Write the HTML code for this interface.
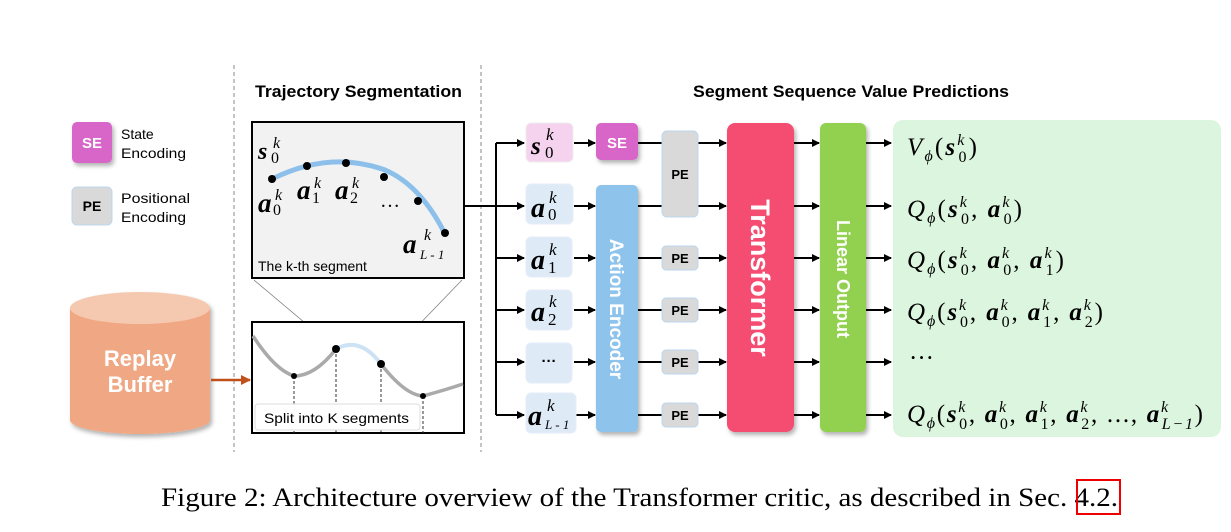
<!DOCTYPE html>
<html><head><meta charset="utf-8"><style>
html,body{margin:0;padding:0;background:#fff}
svg{display:block}
.sans{font-family:"Liberation Sans",sans-serif}
.serif{font-family:"Liberation Serif",serif}
</style></head><body>
<svg width="1231" height="532" viewBox="0 0 1231 532" xmlns="http://www.w3.org/2000/svg">
<defs>
<marker id="ar" markerWidth="8" markerHeight="8" refX="7" refY="4" orient="auto" markerUnits="userSpaceOnUse">
<path d="M0,0 L8,4 L0,8 z" fill="#000"/></marker>
<marker id="aro" markerWidth="10" markerHeight="10" refX="9" refY="5" orient="auto" markerUnits="userSpaceOnUse">
<path d="M0,0 L10,5 L0,10 z" fill="#c0501a"/></marker>
<filter id="sh" x="-20%" y="-20%" width="150%" height="150%"><feDropShadow dx="2" dy="3" stdDeviation="2" flood-opacity="0.3"/></filter>
</defs>

<line x1="234" y1="65" x2="234" y2="452" stroke="#888" stroke-dasharray="4,3" stroke-width="1"/>
<line x1="481" y1="65" x2="481" y2="452" stroke="#888" stroke-dasharray="4,3" stroke-width="1"/>

<text x="255" y="97" class="sans" font-weight="bold" font-size="17" textLength="207" lengthAdjust="spacingAndGlyphs">Trajectory Segmentation</text>
<text x="693" y="97" class="sans" font-weight="bold" font-size="17" textLength="316" lengthAdjust="spacingAndGlyphs">Segment Sequence Value Predictions</text>

<rect x="72" y="122" width="40" height="41" rx="5" fill="#d766c8" filter="url(#sh)"/>
<text x="92" y="148" text-anchor="middle" class="sans" font-weight="bold" font-size="15" fill="#fff">SE</text>
<text x="121" y="139" class="sans" font-size="14">State</text>
<text x="121" y="158" class="sans" font-size="14" textLength="65" lengthAdjust="spacingAndGlyphs">Encoding</text>
<rect x="72" y="187" width="40" height="38" rx="5" fill="#d9d9d9" stroke="#bcd6ee" stroke-width="1"/>
<text x="92" y="211" text-anchor="middle" class="sans" font-weight="bold" font-size="14">PE</text>
<text x="121" y="203" class="sans" font-size="14" textLength="69" lengthAdjust="spacingAndGlyphs">Positional</text>
<text x="121" y="222" class="sans" font-size="14" textLength="65" lengthAdjust="spacingAndGlyphs">Encoding</text>

<g filter="url(#sh)">
<path d="M70,308 L70,420 A70,14 0 0 0 210,420 L210,308 Z" fill="#f0a884"/>
<ellipse cx="140" cy="308" rx="70" ry="16" fill="#f4c9b0"/>
</g>
<text x="140" y="366" text-anchor="middle" class="sans" font-weight="bold" font-size="22" fill="#fff">Replay</text>
<text x="140" y="392" text-anchor="middle" class="sans" font-weight="bold" font-size="22" fill="#fff">Buffer</text>
<line x1="211" y1="380" x2="250" y2="380" stroke="#c0501a" stroke-width="2.5" marker-end="url(#aro)"/>

<rect x="252" y="122" width="212" height="156" fill="#f2f2f2" stroke="#000" stroke-width="2"/>
<path d="M272,179 Q330,150 385,170 Q420,185 444,232" fill="none" stroke="#8cc0ea" stroke-width="5"/>
<g fill="#000"><circle cx="272" cy="179" r="4"/><circle cx="307" cy="166" r="4"/><circle cx="346" cy="163" r="4"/><circle cx="384" cy="177" r="4"/><circle cx="418" cy="201" r="4"/><circle cx="445" cy="233" r="4"/></g>
<g class="serif" font-style="italic" font-weight="bold">
<text x="258" y="159" font-size="24">s</text>
<text x="258" y="212" font-size="27">a</text>
<text x="297" y="199" font-size="27">a</text>
<text x="335" y="199" font-size="27">a</text>
<text x="403" y="253" font-size="27">a</text>
</g>
<g class="serif" font-size="16">
<text x="273" y="148" font-style="italic">k</text><text x="271" y="163">0</text>
<text x="275" y="200" font-style="italic">k</text><text x="273" y="215">0</text>
<text x="314" y="188" font-style="italic">k</text><text x="312" y="203">1</text>
<text x="352" y="188" font-style="italic">k</text><text x="350" y="203">2</text>
<text x="424" y="240" font-style="italic">k</text><text x="420" y="259" font-style="italic" font-size="13">L - 1</text>
</g>
<text x="380" y="207" class="serif" font-size="20">…</text>
<text x="258" y="271" class="sans" font-size="14">The k-th segment</text>

<line x1="254" y1="280" x2="336" y2="349" stroke="#777" stroke-width="0.7"/>
<line x1="462" y1="280" x2="381" y2="364" stroke="#777" stroke-width="0.7"/>

<rect x="252" y="322" width="212" height="111" fill="#fff" stroke="#000" stroke-width="2"/>
<path d="M253,336 Q275,370 294,376 Q315,376 336,349 Q360,336 381,364 Q405,395 423,396 Q445,390 463,384" fill="none" stroke="#aaa" stroke-width="3.5"/>
<path d="M336,349 Q360,336 381,364" fill="none" stroke="#cde2f5" stroke-width="4"/>
<g stroke="#333" stroke-dasharray="3,2" stroke-width="1"><line x1="294" y1="376" x2="294" y2="433"/><line x1="336" y1="349" x2="336" y2="433"/><line x1="381" y1="364" x2="381" y2="433"/><line x1="423" y1="396" x2="423" y2="433"/></g>
<g fill="#000"><circle cx="294" cy="376" r="3"/><circle cx="336" cy="349" r="4"/><circle cx="381" cy="364" r="4"/><circle cx="423" cy="396" r="3"/></g>
<rect x="255" y="404" width="165" height="26" rx="3" fill="#fff" stroke="#ddd" stroke-width="1"/>
<text x="264" y="423" class="sans" font-size="14" textLength="145" lengthAdjust="spacingAndGlyphs">Split into K segments</text>

<g stroke="#000" stroke-width="2" fill="none">
<line x1="464" y1="206" x2="496" y2="206"/>
<line x1="496" y1="143" x2="496" y2="415"/>
</g>
<g stroke="#000" stroke-width="2" marker-end="url(#ar)">
<line x1="496" y1="143" x2="524" y2="143"/>
<line x1="496" y1="206" x2="524" y2="206"/>
<line x1="496" y1="258" x2="524" y2="258"/>
<line x1="496" y1="310" x2="524" y2="310"/>
<line x1="496" y1="362" x2="524" y2="362"/>
<line x1="496" y1="415" x2="524" y2="415"/>
<line x1="574" y1="143" x2="595" y2="143"/>
<line x1="574" y1="206" x2="595" y2="206"/>
<line x1="574" y1="258" x2="595" y2="258"/>
<line x1="574" y1="310" x2="595" y2="310"/>
<line x1="574" y1="362" x2="595" y2="362"/>
<line x1="576" y1="415" x2="595" y2="415"/>
<line x1="698" y1="143" x2="726" y2="143"/>
<line x1="698" y1="206" x2="726" y2="206"/>
<line x1="698" y1="258" x2="726" y2="258"/>
<line x1="698" y1="310" x2="726" y2="310"/>
<line x1="698" y1="362" x2="726" y2="362"/>
<line x1="698" y1="415" x2="726" y2="415"/>
<line x1="794" y1="143" x2="819" y2="143"/>
<line x1="794" y1="206" x2="819" y2="206"/>
<line x1="794" y1="258" x2="819" y2="258"/>
<line x1="794" y1="310" x2="819" y2="310"/>
<line x1="794" y1="362" x2="819" y2="362"/>
<line x1="794" y1="415" x2="819" y2="415"/>
<line x1="866" y1="143" x2="891" y2="143"/>
<line x1="866" y1="206" x2="891" y2="206"/>
<line x1="866" y1="258" x2="891" y2="258"/>
<line x1="866" y1="310" x2="891" y2="310"/>
<line x1="866" y1="362" x2="891" y2="362"/>
<line x1="866" y1="415" x2="891" y2="415"/>
</g>
<g stroke="#000" stroke-width="2">
<line x1="638" y1="143" x2="662" y2="143"/>
<line x1="638" y1="206" x2="662" y2="206"/>
<line x1="638" y1="258" x2="662" y2="258"/>
<line x1="638" y1="310" x2="662" y2="310"/>
<line x1="638" y1="362" x2="662" y2="362"/>
<line x1="638" y1="415" x2="662" y2="415"/>
</g>

<rect x="526" y="123" width="47" height="39" rx="5" fill="#f5d3ee" stroke="#eee"/>
<g fill="#deebf7" stroke="#e6eef8">
<rect x="526" y="184" width="47" height="40" rx="5"/>
<rect x="526" y="237" width="46" height="40" rx="5"/>
<rect x="526" y="290" width="46" height="40" rx="5"/>
<rect x="526" y="343" width="46" height="40" rx="5"/>
<rect x="526" y="393" width="50" height="40" rx="5"/>
</g>
<g class="serif" font-style="italic" font-weight="bold">
<text x="531" y="154" font-size="25">s</text>
<text x="531" y="217" font-size="28">a</text>
<text x="531" y="269" font-size="28">a</text>
<text x="531" y="321" font-size="28">a</text>
<text x="528" y="425" font-size="28">a</text>
</g>
<g class="serif" font-size="17">
<text x="546" y="140" font-style="italic">k</text><text x="545" y="158">0</text>
<text x="549" y="203" font-style="italic">k</text><text x="548" y="220">0</text>
<text x="549" y="255" font-style="italic">k</text><text x="548" y="273">1</text>
<text x="549" y="307" font-style="italic">k</text><text x="548" y="325">2</text>
<text x="547" y="411" font-style="italic">k</text><text x="545" y="429" font-style="italic" font-size="13">L - 1</text>
</g>
<text x="549" y="366" text-anchor="middle" class="sans" font-weight="bold" font-size="15">···</text>

<rect x="596" y="123" width="42" height="37" rx="5" fill="#d766c8" filter="url(#sh)"/>
<text x="617" y="148" text-anchor="middle" class="sans" font-weight="bold" font-size="15" fill="#fff">SE</text>
<rect x="596" y="185" width="42" height="247" rx="5" fill="#8ec3ec" filter="url(#sh)"/>
<text transform="translate(610,309) rotate(90)" text-anchor="middle" class="sans" font-weight="bold" font-size="19" fill="#fff">Action Encoder</text>

<g fill="#d9d9d9" stroke="#bcd6ee">
<rect x="662" y="131" width="36" height="86" rx="5"/>
<rect x="662" y="246" width="36" height="24" rx="4"/>
<rect x="662" y="298" width="36" height="24" rx="4"/>
<rect x="662" y="350" width="36" height="24" rx="4"/>
<rect x="662" y="403" width="36" height="24" rx="4"/>
</g>
<g class="sans" font-weight="bold" font-size="13" text-anchor="middle">
<text x="680" y="179">PE</text><text x="680" y="263">PE</text><text x="680" y="315">PE</text><text x="680" y="367">PE</text><text x="680" y="420">PE</text>
</g>

<rect x="727" y="123" width="67" height="309" rx="8" fill="#f54e72" filter="url(#sh)"/>
<text transform="translate(751,278) rotate(90)" text-anchor="middle" class="sans" font-weight="bold" font-size="27" fill="#fff">Transformer</text>
<rect x="820" y="123" width="46" height="309" rx="6" fill="#92d050" filter="url(#sh)"/>
<text transform="translate(837,279) rotate(90)" text-anchor="middle" class="sans" font-weight="bold" font-size="18" fill="#fff">Linear Output</text>

<rect x="893" y="120" width="328" height="317" rx="10" fill="#dcf5de"/>
<g class="serif" font-size="25">
<text x="907" y="155" textLength="70" lengthAdjust="spacing"><tspan font-style="italic">V</tspan><tspan font-size="16" dy="6" font-style="italic">ϕ</tspan><tspan dy="-6">(</tspan><tspan font-weight="bold" font-style="italic">s</tspan><tspan font-size="16" dy="-10" font-style="italic">k</tspan><tspan font-size="16" dx="-8" dy="17">0</tspan><tspan dy="-7">)</tspan></text>
<text x="907" y="217" textLength="115" lengthAdjust="spacing"><tspan font-style="italic">Q</tspan><tspan font-size="16" dy="6" font-style="italic">ϕ</tspan><tspan dy="-6">(</tspan><tspan font-weight="bold" font-style="italic">s</tspan><tspan font-size="16" dy="-10" font-style="italic">k</tspan><tspan font-size="16" dx="-8" dy="17">0</tspan><tspan dy="-7">, </tspan><tspan font-weight="bold" font-style="italic">a</tspan><tspan font-size="16" dy="-10" font-style="italic">k</tspan><tspan font-size="16" dx="-8" dy="17">0</tspan><tspan dy="-7">)</tspan></text>
<text x="907" y="268" textLength="157" lengthAdjust="spacing"><tspan font-style="italic">Q</tspan><tspan font-size="16" dy="6" font-style="italic">ϕ</tspan><tspan dy="-6">(</tspan><tspan font-weight="bold" font-style="italic">s</tspan><tspan font-size="16" dy="-10" font-style="italic">k</tspan><tspan font-size="16" dx="-8" dy="17">0</tspan><tspan dy="-7">, </tspan><tspan font-weight="bold" font-style="italic">a</tspan><tspan font-size="16" dy="-10" font-style="italic">k</tspan><tspan font-size="16" dx="-8" dy="17">0</tspan><tspan dy="-7">, </tspan><tspan font-weight="bold" font-style="italic">a</tspan><tspan font-size="16" dy="-10" font-style="italic">k</tspan><tspan font-size="16" dx="-8" dy="17">1</tspan><tspan dy="-7">)</tspan></text>
<text x="907" y="320" textLength="196" lengthAdjust="spacing"><tspan font-style="italic">Q</tspan><tspan font-size="16" dy="6" font-style="italic">ϕ</tspan><tspan dy="-6">(</tspan><tspan font-weight="bold" font-style="italic">s</tspan><tspan font-size="16" dy="-10" font-style="italic">k</tspan><tspan font-size="16" dx="-8" dy="17">0</tspan><tspan dy="-7">, </tspan><tspan font-weight="bold" font-style="italic">a</tspan><tspan font-size="16" dy="-10" font-style="italic">k</tspan><tspan font-size="16" dx="-8" dy="17">0</tspan><tspan dy="-7">, </tspan><tspan font-weight="bold" font-style="italic">a</tspan><tspan font-size="16" dy="-10" font-style="italic">k</tspan><tspan font-size="16" dx="-8" dy="17">1</tspan><tspan dy="-7">, </tspan><tspan font-weight="bold" font-style="italic">a</tspan><tspan font-size="16" dy="-10" font-style="italic">k</tspan><tspan font-size="16" dx="-8" dy="17">2</tspan><tspan dy="-7">)</tspan></text>
<text x="909" y="366">···</text>
<text x="907" y="422" textLength="296" lengthAdjust="spacing"><tspan font-style="italic">Q</tspan><tspan font-size="16" dy="6" font-style="italic">ϕ</tspan><tspan dy="-6">(</tspan><tspan font-weight="bold" font-style="italic">s</tspan><tspan font-size="16" dy="-10" font-style="italic">k</tspan><tspan font-size="16" dx="-8" dy="17">0</tspan><tspan dy="-7">, </tspan><tspan font-weight="bold" font-style="italic">a</tspan><tspan font-size="16" dy="-10" font-style="italic">k</tspan><tspan font-size="16" dx="-8" dy="17">0</tspan><tspan dy="-7">, </tspan><tspan font-weight="bold" font-style="italic">a</tspan><tspan font-size="16" dy="-10" font-style="italic">k</tspan><tspan font-size="16" dx="-8" dy="17">1</tspan><tspan dy="-7">, </tspan><tspan font-weight="bold" font-style="italic">a</tspan><tspan font-size="16" dy="-10" font-style="italic">k</tspan><tspan font-size="16" dx="-8" dy="17">2</tspan><tspan dy="-7">, ..., </tspan><tspan font-weight="bold" font-style="italic">a</tspan><tspan font-size="16" dy="-10" font-style="italic">k</tspan><tspan font-size="16" font-style="italic" dx="-8" dy="17">L−1</tspan><tspan dy="-7">)</tspan></text>
</g>

<text x="161" y="506" class="serif" font-size="26" textLength="957" lengthAdjust="spacingAndGlyphs">Figure 2: Architecture overview of the Transformer critic, as described in Sec. 4.2.</text>
<rect x="1077" y="480" width="43" height="34" fill="none" stroke="#e00" stroke-width="2"/>
</svg>
</body></html>
